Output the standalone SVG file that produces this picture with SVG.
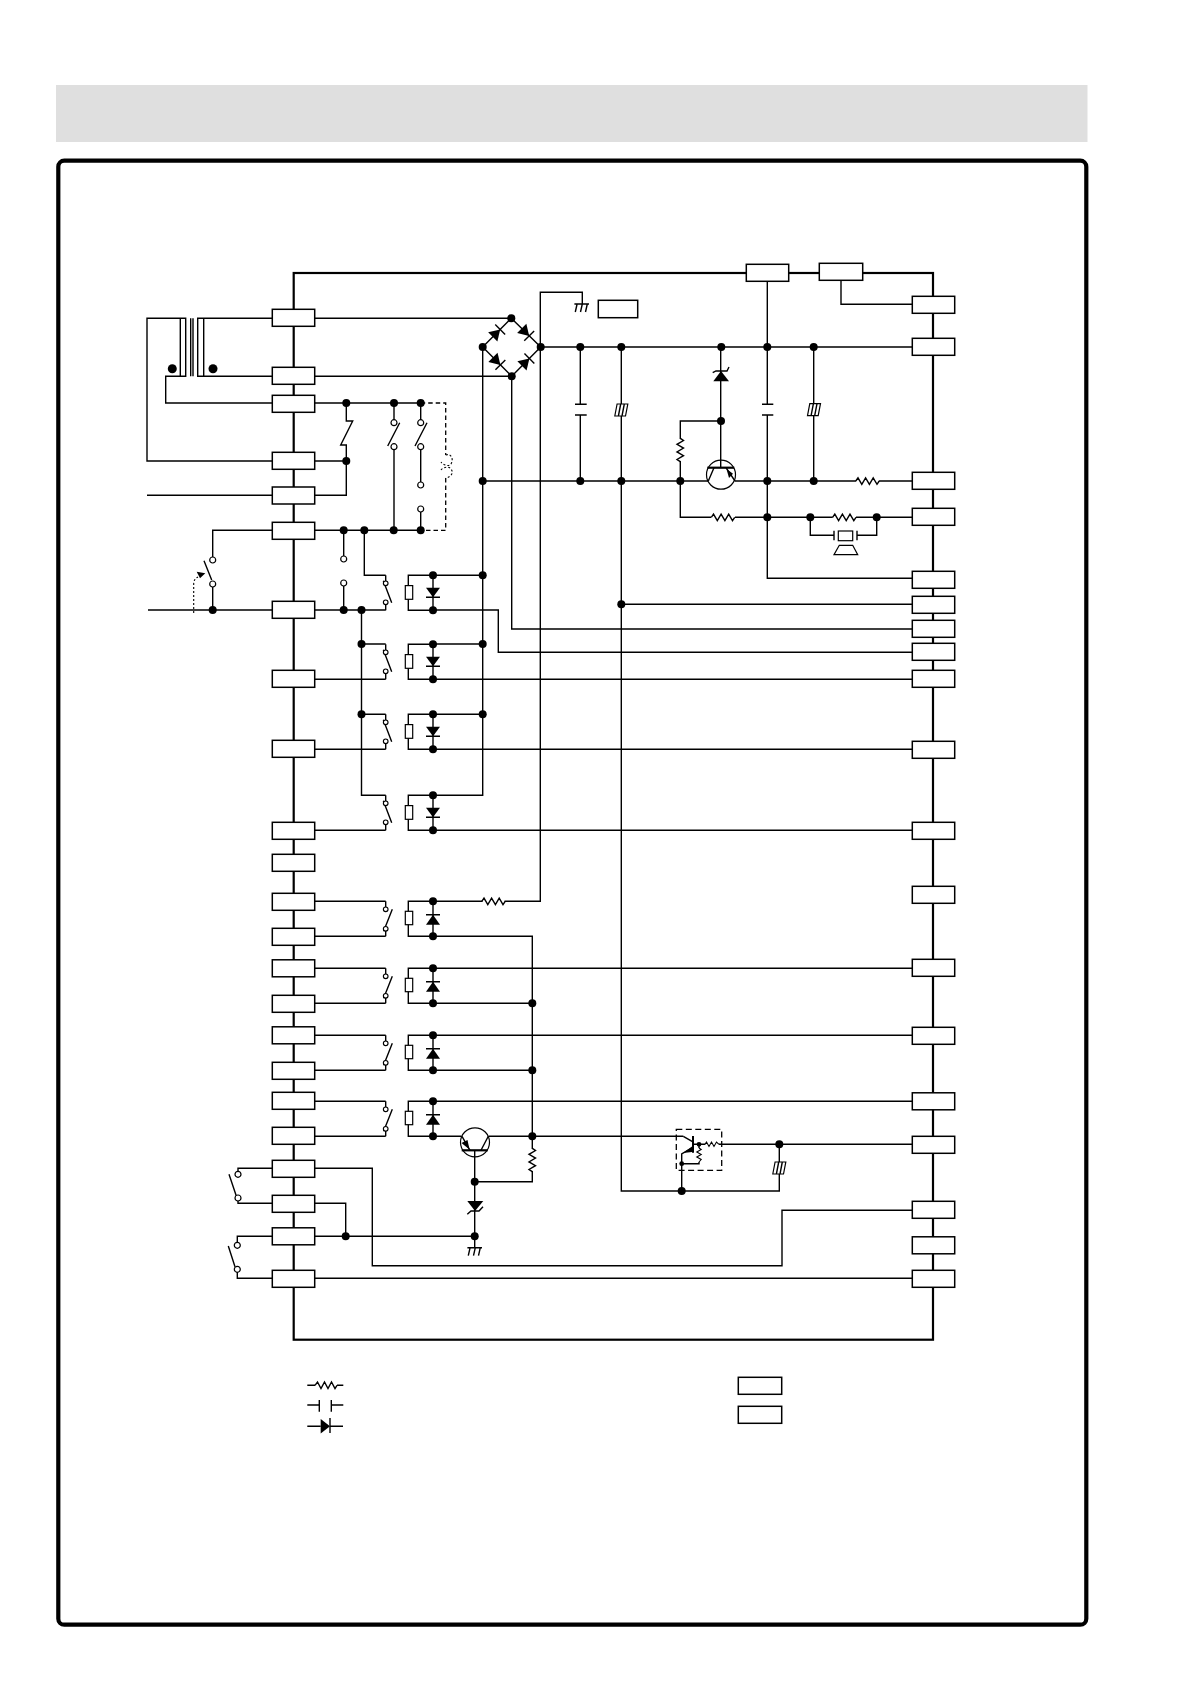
<svg xmlns="http://www.w3.org/2000/svg" xmlns:xlink="http://www.w3.org/1999/xlink" width="1190" height="1684" viewBox="0 0 1190 1684">
<style>
.w{fill:none;stroke:#000;stroke-width:1.4}
.dash{fill:none;stroke:#000;stroke-width:1.3;stroke-dasharray:4.5 3}
.fine{fill:none;stroke:#000;stroke-width:1.1;stroke-dasharray:2 2}
.b{fill:#fff;stroke:#000;stroke-width:1.5}
.o{fill:#fff;stroke:#000;stroke-width:1.2}
.k{fill:#000;stroke:none}
.s{fill:#fff;stroke:#000;stroke-width:1.2}
</style>
<defs>
<circle id="dot" r="4" class="k"/>
<circle id="sdot" r="2.4" class="k"/>
<circle id="oc" r="3" class="o"/>
<circle id="os" r="2.3" class="o"/>
<rect id="conn" x="0" y="0" width="42.4" height="17" class="b"/>
<path id="resH" class="w" d="M-11.7 0 L-9.5 -3.2 L-5.7 3.3 L-1.9 -3.2 L1.9 3.3 L5.7 -3.2 L9.5 3.3 L11.7 0"/>
<path id="resS" d="M-7 0 L-5.5 -2.2 L-3 2.2 L-.5 -2.2 L2 2.2 L4.5 -2.2 L7 0" fill="none" stroke="#000" stroke-width="1.1"/>
<g id="gnd"><path class="w" d="M-7.3 0 H7.3 M-4.6 0 L-6.4 8 M.6 0 L-1.2 8 M5.6 0 L3.8 8"/></g>
<g id="bd"><path class="k" d="M-6 -6.5 L-6 6.5 L4.5 0Z"/><path class="w" d="M4.5 -7 V7"/></g>
<g id="elec"><path class="s" d="M-6.5 6 L-4.2 -6 H6.5 L4.2 6Z"/><path class="w" d="M-2.9 6 L-.6 -6 M.7 6 L3 -6"/></g>
<g id="rowA">
<path class="w" d="M385.7 0 V8 M385.7 27 V35 M383.3 5.5 L391.7 27.5 M433 0 H408.3 V35 H433 M433 0 V35 M426 22 H440"/>
<use xlink:href="#os" x="385.7" y="8"/><use xlink:href="#os" x="385.7" y="27"/>
<rect class="s" x="405.3" y="10.3" width="7.4" height="13.7"/>
<path class="k" d="M426 12.5 H440 L433 22Z"/>
<use xlink:href="#dot" x="433" y="0"/><use xlink:href="#dot" x="433" y="35"/>
</g>
<g id="rowB">
<path class="w" d="M385.7 0 V8 M385.7 27.5 V35 M392.3 8 L383.6 30 M433 0 H408.3 V35 H433 M433 0 V35 M426 13.5 H440"/>
<use xlink:href="#os" x="385.7" y="8"/><use xlink:href="#os" x="385.7" y="27.5"/>
<rect class="s" x="405.3" y="10" width="7.4" height="13.4"/>
<path class="k" d="M426 23.5 H440 L433 13.5Z"/>
<use xlink:href="#dot" x="433" y="0"/><use xlink:href="#dot" x="433" y="35"/>
</g>
</defs>
<rect id="title-band" x="56" y="85" width="1031.5" height="57" fill="#dfdfdf"/>
<rect id="frame" x="58.3" y="160.7" width="1028" height="1464" rx="6" fill="none" stroke="#000" stroke-width="4.2"/>
<rect id="board" x="293.7" y="273" width="639.3" height="1066.7" fill="none" stroke="#000" stroke-width="2.2"/>

<g id="connectors">
<path class="w" d="M272.3 461 H147 V318.3 H185.7 V376.3 H165.7 V403 H272.3 M180.3 318.3 V376.3 M272.3 318.3 H197.7 V376.3 H272.3 M203.7 318.3 V376.3 M190.7 318.3 V376.3 M193 318.3 V376.3"/>
<path class="w" d="M147 495.3 H272.3 M148 610 H272.3 M314.7 318.3 H511.3 M314.7 376.3 H511.7"/>
<path class="w" d="M482.7 347 L511.3 318.3 L540.7 347 L511.7 376.3 Z"/>
<path class="w" d="M540.7 347 H912.3 M482.7 347 V795.3 H433 M433 575.3 H482.7 M433 644 H482.7 M433 714.3 H482.7"/>
<path class="w" d="M483 481 H708 M735 481 H856 M879 481 H912.3 M511.7 376.3 V629 H912.3"/>
<path class="w" d="M433 901.3 H482.5 M504.5 901.3 H540.3 V292.3 H582.3 V304"/>
<path class="w" d="M580.3 347 V404.3 M580.3 415 V481 M575 404.3 H586.7 M575 415 H586.7"/>
<path class="w" d="M621.3 347 V1191 H779.3 V1144.3 M621.3 604.3 H912.3"/>
<path class="w" d="M720.7 347 V467.7 M720.7 421 H680.3 V439 M680.3 461 V517.3 H711 M735 517.3 H832.7 M856 517.3 H912.3"/>
<path class="w" d="M767.3 281.3 V404.3 M767.3 415 V578.3 H912.3 M762 404.3 H773.3 M762 415 H773.3"/>
<path class="w" d="M813.7 347 V481 M841 280.3 V304.3 H912.3"/>
<path class="w" d="M810.3 517.3 V535.3 H834 M857 535.3 H876.7 V517.3"/>
<path class="w" d="M314.7 403 H420.7 M346.3 403 V421 H352.7 L340.7 445 H346.3 V495.3 H314.7 M314.7 461 H346.3"/>
<path class="w" d="M394 403 V420 M394 449.7 V530.3 M420.7 403 V420 M420.7 449.7 V482 M420.7 512 V530.3"/>
<path class="w" d="M399.7 422.7 L387.7 446 M427 422.7 L415 446"/>
<path class="dash" d="M420.7 403 H445.7 V455 M445.7 478 V530.3 H420.7"/>
<path class="w" d="M272.3 530.3 H212.7 V557 M212.7 587 V610 M204 560.7 L211.7 580 M314.7 530.3 H420.7"/>
<path class="w" d="M343.7 530.3 V556 M343.7 586 V610 M364.3 530.3 V575.3 H385.7 M314.7 610 H385.7"/>
<path class="w" d="M361.5 610 V795.3 H385.7 M361.5 644 H385.7 M361.5 714.3 H385.7"/>
<path class="w" d="M314.7 679.3 H385.7 M314.7 749.3 H385.7 M314.7 830.3 H385.7"/>
<path class="w" d="M433 610 H498.3 V652.3 H912.3 M433 679.3 H912.3 M433 749.3 H912.3 M433 830.3 H912.3"/>
<path class="w" d="M314.7 901.3 H385.7 M314.7 936.3 H385.7 M433 936.3 H532.3 V1149 M532.3 1171 V1181.7 H474.7"/>
<path class="w" d="M314.7 968.3 H385.7 M433 968.3 H912.3 M314.7 1003.3 H385.7 M433 1003.3 H532.3"/>
<path class="w" d="M314.7 1035.3 H385.7 M433 1035.3 H912.3 M314.7 1070.3 H385.7 M433 1070.3 H532.3"/>
<path class="w" d="M314.7 1101.3 H385.7 M433 1101.3 H912.3 M314.7 1136.3 H385.7 M433 1136.3 H461 M489 1136.3 H683.3"/>
<path class="w" d="M474.7 1150 V1247.7"/>
<path class="w" d="M314.7 1168.3 H372.3 V1265.7 H782 V1210.3 H912.3 M314.7 1203.3 H345.7 V1236.3 M314.7 1236.3 H474.7"/>
<path class="w" d="M272.3 1168.3 H238 V1174 M238 1198 V1203.3 H272.3 M229 1174.3 L236.3 1196 M272.3 1236.3 H237.3 V1245 M237.3 1269 V1278.3 H272.3 M228.3 1246 L235 1266.7"/>
<path class="w" d="M314.7 1278.3 H912.3 M719 1144.3 H912.3 M693 1144.3 H705.3 M699 1144.3 V1148 M699 1162 V1163.7 H681.7"/>
</g>

<g id="left-connectors">
<use xlink:href="#conn" x="272.3" y="309.3"/><use xlink:href="#conn" x="272.3" y="367.3"/><use xlink:href="#conn" x="272.3" y="395.3"/><use xlink:href="#conn" x="272.3" y="452.3"/><use xlink:href="#conn" x="272.3" y="487"/><use xlink:href="#conn" x="272.3" y="522.3"/><use xlink:href="#conn" x="272.3" y="601.3"/><use xlink:href="#conn" x="272.3" y="670.3"/><use xlink:href="#conn" x="272.3" y="740.3"/><use xlink:href="#conn" x="272.3" y="822.3"/><use xlink:href="#conn" x="272.3" y="854.3"/><use xlink:href="#conn" x="272.3" y="893.3"/><use xlink:href="#conn" x="272.3" y="928.3"/><use xlink:href="#conn" x="272.3" y="959.8"/><use xlink:href="#conn" x="272.3" y="995.3"/><use xlink:href="#conn" x="272.3" y="1026.8"/><use xlink:href="#conn" x="272.3" y="1062.3"/><use xlink:href="#conn" x="272.3" y="1092.3"/><use xlink:href="#conn" x="272.3" y="1127.3"/><use xlink:href="#conn" x="272.3" y="1160.3"/><use xlink:href="#conn" x="272.3" y="1195.3"/><use xlink:href="#conn" x="272.3" y="1227.8"/><use xlink:href="#conn" x="272.3" y="1270.3"/>
</g>
<g id="right-connectors">
<use xlink:href="#conn" x="912.3" y="296.3"/><use xlink:href="#conn" x="912.3" y="338.3"/><use xlink:href="#conn" x="912.3" y="472.3"/><use xlink:href="#conn" x="912.3" y="508.3"/><use xlink:href="#conn" x="912.3" y="571.3"/><use xlink:href="#conn" x="912.3" y="596.3"/><use xlink:href="#conn" x="912.3" y="620.3"/><use xlink:href="#conn" x="912.3" y="643.3"/><use xlink:href="#conn" x="912.3" y="670.3"/><use xlink:href="#conn" x="912.3" y="741.3"/><use xlink:href="#conn" x="912.3" y="822.3"/><use xlink:href="#conn" x="912.3" y="886.3"/><use xlink:href="#conn" x="912.3" y="959.3"/><use xlink:href="#conn" x="912.3" y="1027.3"/><use xlink:href="#conn" x="912.3" y="1092.8"/><use xlink:href="#conn" x="912.3" y="1136.3"/><use xlink:href="#conn" x="912.3" y="1201.3"/><use xlink:href="#conn" x="912.3" y="1236.8"/><use xlink:href="#conn" x="912.3" y="1270.3"/>
</g>
<g id="top-connectors">
<use xlink:href="#conn" x="746.3" y="264.3"/>
<rect class="b" x="819.3" y="263.3" width="43.4" height="17"/>
</g>
<g id="label-box"><rect class="b" x="598.3" y="300.3" width="39.4" height="17.4"/></g>

<g id="transformer-dots"><circle class="k" cx="172.3" cy="368.7" r="4.5"/><circle class="k" cx="213" cy="368.7" r="4.5"/></g>

<g id="bridge">
<use xlink:href="#bd" transform="translate(497,332.7) rotate(-45)"/>
<use xlink:href="#bd" transform="translate(526,332.7) rotate(45)"/>
<use xlink:href="#bd" transform="translate(497.2,361.7) rotate(45)"/>
<use xlink:href="#bd" transform="translate(526.2,361.7) rotate(-45)"/>
</g>

<g id="thermal-switches">
<use xlink:href="#oc" x="394" y="422.7"/><use xlink:href="#oc" x="394" y="446.7"/>
<use xlink:href="#oc" x="420.7" y="422.7"/><use xlink:href="#oc" x="420.7" y="446.7"/><use xlink:href="#oc" x="420.7" y="485"/><use xlink:href="#oc" x="420.7" y="509"/>
<use xlink:href="#oc" x="212.7" y="560"/><use xlink:href="#oc" x="212.7" y="584"/>
<use xlink:href="#oc" x="343.7" y="559"/><use xlink:href="#oc" x="343.7" y="583"/>
<path class="fine" d="M193.7 613 V584 Q193.7 579 198 577"/>
<path class="k" d="M196.7 571.7 L205.3 573.3 L200 578.3Z"/>
<path class="fine" d="M445.7 455 C451 453 454 459 451 464 C449 467 443 465 441 462 M441 470 C443 467 449 466 451 469 C454 473 451 477 445.7 478"/>
</g>

<g id="relay-1"><use xlink:href="#rowA" y="575.3"/></g>
<g id="relay-2"><use xlink:href="#rowA" y="644.3"/></g>
<g id="relay-3"><use xlink:href="#rowA" y="714.3"/></g>
<g id="relay-4"><use xlink:href="#rowA" y="795.3"/></g>
<g id="relay-5"><use xlink:href="#rowB" y="901.3"/></g>
<g id="relay-6"><use xlink:href="#rowB" y="968.3"/></g>
<g id="relay-7"><use xlink:href="#rowB" y="1035.3"/></g>
<g id="relay-8"><use xlink:href="#rowB" y="1101.3"/></g>

<g id="panel-switches">
<use xlink:href="#oc" x="238" y="1174.3"/><use xlink:href="#oc" x="238" y="1198"/>
<use xlink:href="#oc" x="237.3" y="1245.3"/><use xlink:href="#oc" x="237.3" y="1269.3"/>
</g>

<g id="grounds">
<use xlink:href="#gnd" x="581.7" y="304"/>
<use xlink:href="#gnd" x="474.7" y="1247.7"/>
</g>

<g id="resistors">
<use xlink:href="#resH" x="493.5" y="901.3"/>
<use xlink:href="#resH" x="867.5" y="481"/>
<use xlink:href="#resH" x="723" y="517.3"/>
<use xlink:href="#resH" x="844.3" y="517.3"/>
<use xlink:href="#resH" transform="translate(680.3,450) rotate(90)"/>
<use xlink:href="#resH" transform="translate(532.3,1160) rotate(90)"/>
</g>

<g id="capacitors">
<use xlink:href="#elec" x="621.3" y="410"/>
<use xlink:href="#elec" x="814" y="409.7"/>
<use xlink:href="#elec" x="779.3" y="1168"/>
</g>

<g id="zener-1"><path class="k" d="M713.3 381.3 H729 L721 371Z"/><path class="w" d="M712.7 372.7 L716 371 H727 L729 367"/></g>
<g id="zener-2"><path class="k" d="M467.3 1201 H483.3 L475 1211Z"/><path class="w" d="M467.3 1214.3 L471 1211 H479 L483 1206.7"/></g>

<g id="transistor-1">
<circle cx="721" cy="474.7" r="14.5" class="s" fill="none" style="fill:none"/>
<path d="M707.3 467.7 H734.3" stroke="#000" stroke-width="2.2"/>
<path class="w" d="M714 467.7 L708.3 481 M726 467.7 L735 481"/>
<path class="k" d="M726.5 469 L733 473.7 L729 478Z"/>
</g>
<g id="transistor-2">
<circle cx="475" cy="1142.3" r="14.5" class="s" style="fill:none"/>
<path d="M461.7 1150.3 H487.7" stroke="#000" stroke-width="2.2"/>
<path class="w" d="M462 1136.3 L470 1150.3 M481 1150.3 L488.3 1136.3"/>
<path class="k" d="M461.5 1143 L467.5 1140 L469.5 1149.5Z"/>
</g>
<g id="transistor-3">
<rect x="676.3" y="1129.3" width="45.4" height="41" fill="none" stroke="#000" stroke-width="1.3" stroke-dasharray="6 3.5"/>
<path d="M693 1136 V1152.7" stroke="#000" stroke-width="2"/>
<path class="w" d="M683.3 1136.3 L692.5 1141.7 M692.5 1147.7 L681.7 1154 V1191"/>
<path class="k" d="M683 1153 L692 1146.5 L692 1152Z"/>
<use xlink:href="#resS" x="712" y="1144.3"/>
<use xlink:href="#resS" transform="translate(699,1155) rotate(90)"/>
<use xlink:href="#sdot" x="699" y="1144.3"/>
<use xlink:href="#sdot" x="681.7" y="1163.7"/>
</g>
<g id="speaker">
<path class="w" d="M834 530.7 V540.3 M857 530.7 V540.3"/>
<rect class="s" x="838.3" y="531" width="14.4" height="9.7"/>
<path class="s" d="M839.3 545.3 H852.7 L857.7 554.7 H834Z"/>
</g>

<g id="junctions">
<use xlink:href="#dot" x="511.3" y="318.3"/><use xlink:href="#dot" x="482.7" y="347"/><use xlink:href="#dot" x="540.7" y="347"/><use xlink:href="#dot" x="511.7" y="376.3"/>
<use xlink:href="#dot" x="580.3" y="347"/><use xlink:href="#dot" x="621.3" y="347"/><use xlink:href="#dot" x="721.3" y="347"/><use xlink:href="#dot" x="767.3" y="347"/><use xlink:href="#dot" x="813.7" y="347"/>
<use xlink:href="#dot" x="721" y="421"/>
<use xlink:href="#dot" x="482.7" y="481"/><use xlink:href="#dot" x="580.3" y="481"/><use xlink:href="#dot" x="621.3" y="481"/><use xlink:href="#dot" x="680.3" y="481"/><use xlink:href="#dot" x="767.3" y="481"/><use xlink:href="#dot" x="813.7" y="481"/>
<use xlink:href="#dot" x="767.3" y="517.3"/><use xlink:href="#dot" x="810.3" y="517.3"/><use xlink:href="#dot" x="876.7" y="517.3"/>
<use xlink:href="#dot" x="621.3" y="604.3"/>
<use xlink:href="#dot" x="346.3" y="403"/><use xlink:href="#dot" x="394" y="403"/><use xlink:href="#dot" x="420.7" y="403"/><use xlink:href="#dot" x="346.3" y="461"/>
<use xlink:href="#dot" x="343.7" y="530.3"/><use xlink:href="#dot" x="364.3" y="530.3"/><use xlink:href="#dot" x="393.7" y="530.3"/><use xlink:href="#dot" x="420.7" y="530.3"/>
<use xlink:href="#dot" x="212.7" y="610"/><use xlink:href="#dot" x="343.7" y="610"/><use xlink:href="#dot" x="361.5" y="610"/>
<use xlink:href="#dot" x="482.7" y="575.3"/><use xlink:href="#dot" x="361.5" y="644"/><use xlink:href="#dot" x="482.7" y="644"/><use xlink:href="#dot" x="361.5" y="714.3"/><use xlink:href="#dot" x="482.7" y="714.3"/>
<use xlink:href="#dot" x="532.3" y="1003.3"/><use xlink:href="#dot" x="532.3" y="1070.3"/><use xlink:href="#dot" x="532.3" y="1136.3"/>
<use xlink:href="#dot" x="474.7" y="1181.7"/><use xlink:href="#dot" x="474.7" y="1236.3"/><use xlink:href="#dot" x="345.7" y="1236.3"/>
<use xlink:href="#dot" x="681.7" y="1191"/><use xlink:href="#dot" x="779.3" y="1144.3"/>
</g>

<g id="legend">
<path class="w" d="M307.3 1385.3 H315 M337 1385.3 H343.3 M307.3 1405 H319.3 M319.3 1400 V1411.7 M331.3 1400 V1411.7 M331.3 1405 H343.3 M307.3 1426.3 H320.7 M330 1426.3 H343 M330 1418 V1433"/>
<path class="w" d="M315 1385.3 L317.5 1382 L321 1388.5 L324.5 1382 L328 1388.5 L331.5 1382 L335 1388.5 L337 1385.3"/>
<path class="k" d="M320.7 1419 V1433.5 L330 1426.3Z"/>
<rect class="b" x="738.3" y="1377.3" width="43.4" height="17"/>
<rect class="b" x="738.3" y="1406.3" width="43.4" height="17"/>
</g>
</svg>
